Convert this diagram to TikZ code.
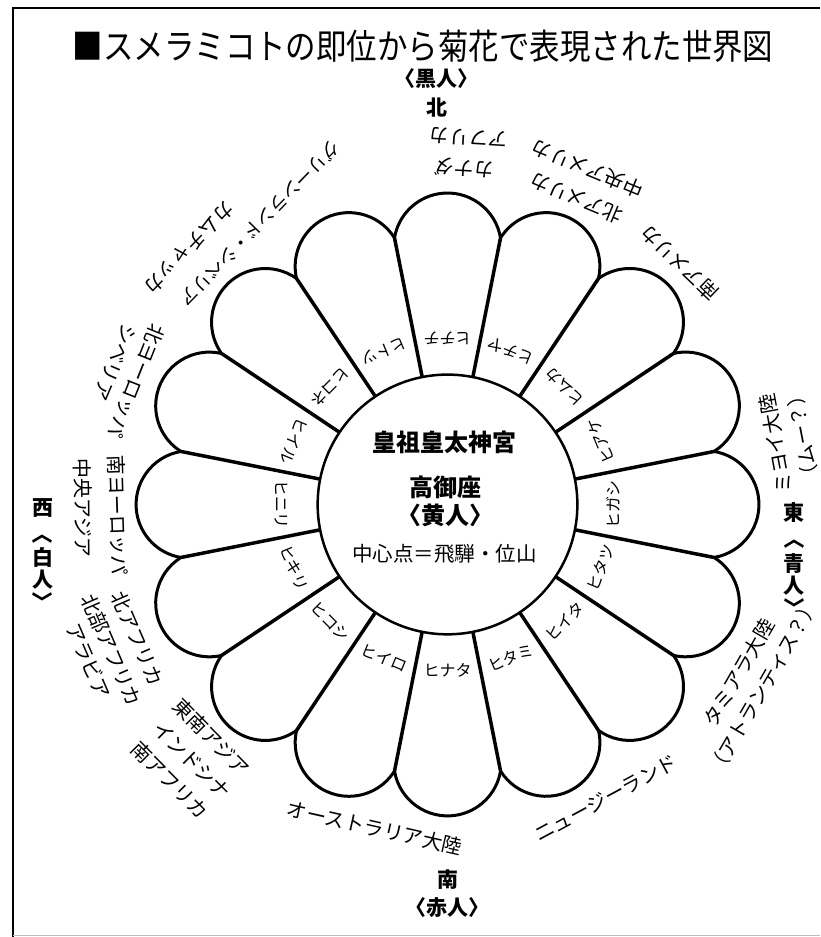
\documentclass[tikz,border=0pt]{standalone}
\usepackage{fontspec}
\setmainfont{Noto Sans CJK JP}
\usetikzlibrary{positioning}
\newcommand{\lbr}{\makebox[0.5em][r]{〈}}
\newcommand{\rbr}{\makebox[0.5em][l]{〉}}

\begin{document}
\begin{tikzpicture}[x=1pt,y=1pt,every node/.style={inner sep=0pt},
    petal line/.style={line width=3.5pt},
    petal arc/.style={line width=3pt},
    hi label/.style={font=\fontsize{16}{16}\selectfont},
    land/.style={font=\fontsize{20}{20}\selectfont},
    compass/.style={font=\bfseries\fontsize{21}{19}\selectfont},
    core/.style={font=\bfseries\fontsize{24}{24}\selectfont}]
  \useasboundingbox (-448,-433) rectangle (373,505);
  % frame of the page
  \draw[line width=1.8pt] (373,497) -- (-435,497) -- (-435,-433);
  \draw[line width=1pt,gray!50] (-435,-431) -- (373,-431);
  % sixteen petals
  \foreach \a in {0,22.5,...,337.5}
    \draw[petal line] ({\a+11.25}:130) -- ({\a+11.25}:272);
  \foreach \a in {0,22.5,...,337.5}
    \draw[petal arc] ({\a-11.25}:272) arc[start angle=\a-80.6, end angle=\a+80.6, radius=53.8];
  \node[circle,draw,line width=2.5pt,minimum size=260pt,fill=white] (center) at (0,0) {};
  % names of the petals
  \foreach \t [count=\i from 0] in {ヒガシ,ヒアケ,ヒムカ,ヒチヤ,ヒチチ,ヒトツ,ヒコネ,ヒイル,
      ヒニリ,ヒキリ,ヒコシ,ヒイロ,ヒナタ,ヒタミ,ヒイタ,ヒタツ}
    \node[hi label,rotate={\i*22.5+90}] (hi\i) at ({\i*22.5}:166) {\t};
  % lands round the flower
  \foreach \a/\r/\t [count=\k] in {86.7/368/アフリカ, 87.1/337/カナダ,
      67.2/333/北アメリカ, 67.4/364/中央アメリカ, 46.2/335/南アメリカ,
      158.3/335/北ヨーロッパ, 156.9/362/シベリア,
      181.9/330/南ヨーロッパ, 180.6/365/中央アジア,
      203.4/338/北アフリカ, 203.4/367/北部アフリカ, 203.5/392/アラビア,
      224.6/332/東南アジア, 225/362/インドシナ, 224.8/392/南アフリカ,
      257.3/332/オーストラリア大陸, 298.3/334/ニュージーランド,
      330/337/タミアラ大陸, 330/365/（アトランティス？）,
      10.5/334/ミヨイ大陸, 11/362/（ムー？）}
    \node[land,rotate=\a+90] (land\k) at (\a:\r) {\t};
  \node[land,font=\fontsize{18.5}{18}\selectfont,rotate=225.9] (greenland) at (-188,281) {グリーンランド・シベリア};
  \node[land,rotate=226] (kamchatka) at (-259,257) {カムチャッカ};
  % centre
  \node[core] (shrine) at (-3,62) {皇祖皇太神宮};
  \node[core] (throne) at (-2,17) {高御座};
  \node[core] (yellow) at (-2,-11) {\lbr 黄人\rbr};
  \node[font=\fontsize{20.5}{20}\selectfont] (origin) at (-3,-49) {中心点＝飛騨・位山};
  % four quarters
  \node[compass] (black) at (-11,426) {\lbr 黒人\rbr};
  \node[compass,below=9pt of black] (north) {北};
  \node[compass] (south) at (0,-376) {南};
  \node[compass,below=7pt of south] (red) {\lbr 赤人\rbr};
  \node[compass] (west) at (-405,-4) {西};
  \node[compass,rotate=-90] (white open) at (-405,-35) {\lbr};
  \node[compass] (white) at (-405,-53) {白};
  \node[compass] (white man) at (-405,-75) {人};
  \node[compass,rotate=-90] (white close) at (-405,-92) {\rbr};
  \node[compass] (east) at (347,-8) {東};
  \node[compass,rotate=-90] (blue open) at (347,-40) {\lbr};
  \node[compass] (blue) at (347,-59) {青};
  \node[compass] (blue man) at (347,-81) {人};
  \node[compass,rotate=-90] (blue close) at (347,-98) {\rbr};
  % title
  \node[font=\fontsize{30.5}{30}\selectfont,yscale=1.15] (title) at (-24.5,459)
    {■スメラミコトの即位から菊花で表現された世界図};
\end{tikzpicture}
\end{document}
